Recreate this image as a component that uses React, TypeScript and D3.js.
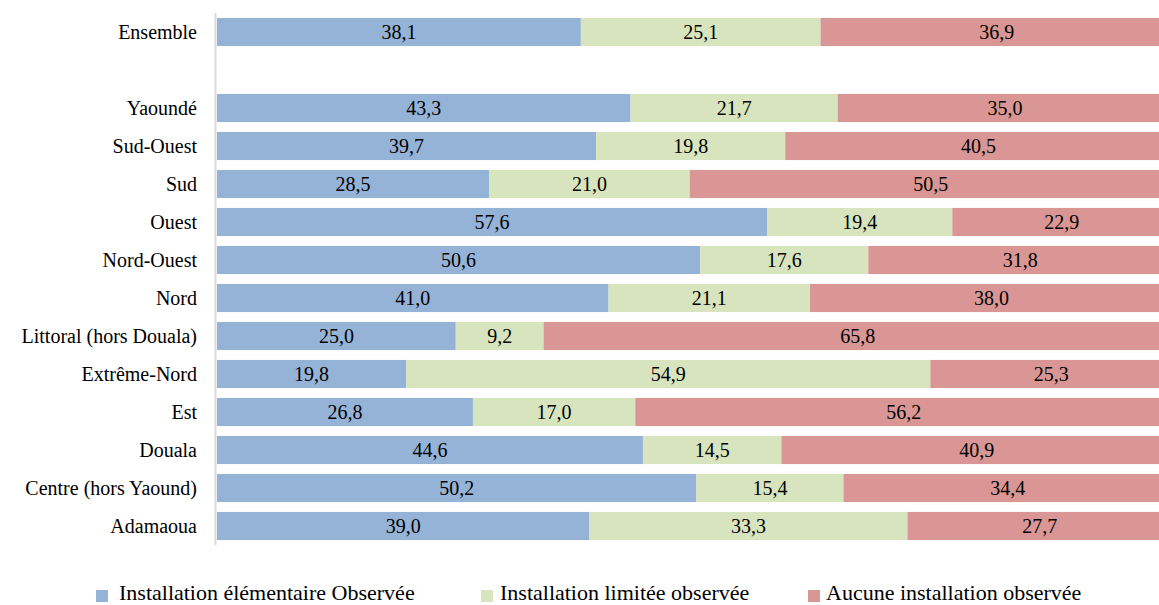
import React from "react";
import * as d3 from "d3";

const categories = [
  "Ensemble", "", "Yaoundé", "Sud-Ouest", "Sud", "Ouest", "Nord-Ouest", "Nord",
  "Littoral (hors Douala)", "Extrême-Nord", "Est", "Douala", "Centre (hors Yaound)", "Adamaoua",
];
const elementaire = [38.1, null, 43.3, 39.7, 28.5, 57.6, 50.6, 41.0, 25.0, 19.8, 26.8, 44.6, 50.2, 39.0];
const limitee = [25.1, null, 21.7, 19.8, 21.0, 19.4, 17.6, 21.1, 9.2, 54.9, 17.0, 14.5, 15.4, 33.3];
const aucune = [36.9, null, 35.0, 40.5, 50.5, 22.9, 31.8, 38.0, 65.8, 25.3, 56.2, 40.9, 34.4, 27.7];
const seriesNames = ["Installation élémentaire Observée", "Installation limitée observée", "Aucune installation observée"];
const colors = ["#95B3D7", "#D7E4BD", "#D99694"];

const FONT = "Liberation Serif";

export default function App() {
  const W = 1159, H = 605;
  const x0 = 217, x1 = 1172;
  const x = d3.scaleLinear().domain([0, 100]).range([x0, x1]);
  const keys = categories.map((_, i) => String(i));
  const y = d3.scaleBand().domain(keys).range([13, 545]).paddingInner(0.26).paddingOuter(0.13);
  const series = [elementaire, limitee, aucune];
  const fmt = (v: number) => v.toFixed(1).replace(".", ",");

  const bars: React.ReactNode[] = [];
  categories.forEach((c, i) => {
    if (elementaire[i] == null) return;
    let acc = 0;
    series.forEach((s, k) => {
      const v = s[i] as number;
      const xa = x(acc), xb = x(acc + v);
      acc += v;
      bars.push(
        <g key={`${i}-${k}`}>
          <rect x={xa} y={y(String(i))} width={xb - xa} height={y.bandwidth()} fill={colors[k]} />
          <text x={(xa + xb) / 2} y={(y(String(i)) as number) + y.bandwidth() / 2} dy="0.35em"
            textAnchor="middle" fontSize={20} fontFamily={FONT} fill="#000">{fmt(v)}</text>
        </g>
      );
    });
  });

  const legendSq = [96, 481, 808];
  const legendTx = [119, 500, 826];
  return (
    <svg width={W} height={H} fontFamily={FONT} style={{ display: "block", position: "absolute", left: 0, top: 0, background: "#fff" }}>
      {bars}
      <line x1={215.5} x2={215.5} y1={13} y2={545} stroke="#D9D9D9" strokeWidth={2} />
      {categories.map((c, i) => (
        <text key={i} x={197} y={(y(String(i)) as number) + y.bandwidth() / 2} dy="0.35em"
          textAnchor="end" fontSize={20} fontFamily={FONT} fill="#000">{c}</text>
      ))}
      {seriesNames.map((n, k) => (
        <g key={k}>
          <rect x={legendSq[k]} y={590} width={12} height={12} fill={colors[k]} />
          <text x={legendTx[k]} y={600} fontSize={22} fontFamily={FONT} fill="#000">{n}</text>
        </g>
      ))}
    </svg>
  );
}
